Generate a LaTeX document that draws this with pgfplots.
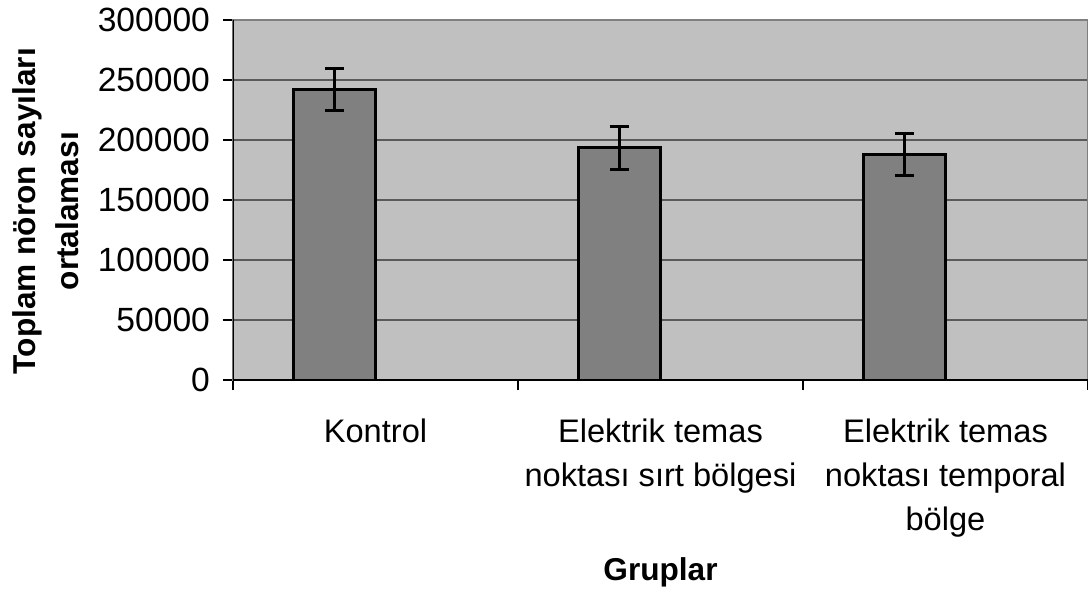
\documentclass[border=0pt]{standalone}
\usepackage{pgfplots}
\pgfplotsset{compat=1.18}
\usepackage{fontspec}
\setmainfont{Liberation Sans}
\definecolor{plotbg}{HTML}{C0C0C0}
\definecolor{barfill}{HTML}{808080}
\definecolor{framegray}{HTML}{808080}
\definecolor{gridgray}{HTML}{5A5A5A}
\begin{document}
\begin{tikzpicture}
\begin{axis}[
  at={(0,0)}, anchor=south west,
  scale only axis,
  width=427.5pt, height=180pt,
  xmin=-0.5, xmax=2.5,
  ymin=0, ymax=300000,
  ytick={0,50000,100000,150000,200000,250000,300000},
  yticklabels={0,50000,100000,150000,200000,250000,300000},
  scaled y ticks=false,
  xtick={-0.5,0.5,1.5,2.5},
  x tick label as interval,
  xticklabels={Kontrol,{Elektrik temas\\noktası sırt bölgesi},{Elektrik temas\\noktası temporal\\bölge}},
  x tick label style={align=center, anchor=north, yshift=-11pt, font=\fontsize{16.3}{22}\selectfont},
  y tick label style={anchor=east, xshift=-3pt, font=\fontsize{16.8}{20}\selectfont},
  tick label style={black},
  tick align=outside,
  major tick length=5pt,
  xtick pos=bottom, ytick pos=left,
  tick style={black, line width=0.6pt},
  axis background/.style={fill=plotbg},
  axis line style={draw=framegray, line width=1pt},
  ymajorgrids,
  major grid style={draw=gridgray, line width=0.6pt},
  every axis y label/.style={at={(axis description cs:-0.2187,0.469)}, rotate=90, anchor=center, align=center, font=\fontsize{15.8}{21.5}\selectfont\bfseries},
  every axis x label/.style={at={(axis description cs:0.5,-0.533)}, anchor=center, font=\fontsize{15.8}{21.5}\selectfont\bfseries},
  ylabel={Toplam nöron sayıları\\ortalaması},
  xlabel={Gruplar},
]
\addplot[ybar, bar width=0.288, bar shift=0pt, fill=barfill, draw=black, line width=1.5pt,
  error bars/.cd, y dir=both, y explicit,
  error mark=-,
  error bar style={line width=1.5pt, black},
  error mark options={rotate=90, line width=1.5pt, black, mark size=4.75pt}]
  coordinates {
    (-0.144,242500) +- (0,17500)
    (0.856,193500) +- (0,17800)
    (1.856,188000) +- (0,17400)
  };
\draw[black, line width=0.6pt] (rel axis cs:0,0) -- (rel axis cs:0,1);
\draw[black, line width=0.8pt] (rel axis cs:0,0) -- (rel axis cs:1,0);
\end{axis}
\pgfresetboundingbox
\path[use as bounding box] (-116.5pt,-108pt) rectangle (427.5pt,190pt);
\end{tikzpicture}
\end{document}
